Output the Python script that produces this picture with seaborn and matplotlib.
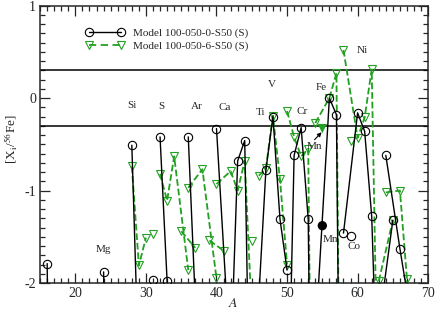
import matplotlib
matplotlib.use("Agg")
import matplotlib.pyplot as plt
from matplotlib.lines import Line2D
from matplotlib.ticker import MultipleLocator
import pandas as pd
import seaborn as sns

# Model 100-050-0-S50 (S): isotope groups, mass numbers, [X_i/56Fe]
m0_group = ["O"] * 3 + ["Mg"] * 3 + ["Si"] * 3 + ["P"] + ["S"] * 4 + ["Ar"] * 3 \
    + ["Ca"] * 6 + ["Ti"] * 5 + ["VCr"] * 5 + ["Fe"] * 4 + ["Co"] + ["Ni"] * 5 \
    + ["Cu"] * 2 + ["Zn"] * 5
m0_A = [16, 17, 18, 24, 25, 26, 28, 29, 30, 31, 32, 33, 34, 36, 36, 38, 40,
        40, 42, 43, 44, 46, 48, 46, 47, 48, 49, 50, 50, 51, 52, 53, 54,
        54, 56, 57, 58, 59, 58, 60, 61, 62, 64, 63, 65, 64, 66, 67, 68, 70]
m0_val = [-1.79, -9, -9, -1.88, -9, -9, -0.51, -3.0, -4.5, -1.97,
          -0.42, -1.98, -6, -8, -0.42, -4.0, -6,
          -0.33, -2.9, -0.68, -0.46, -9, -9,
          -2.15, -0.78, -0.20, -1.31, -1.86,
          -4.1, -0.62, -0.32, -1.31, -8,
          -2.62, 0.0, -0.18, -8, -1.49,
          -1.46, -0.16, -0.36, -1.28, -6,
          -2.45, -1.32, -0.62, -1.63, -2.1, -5, -5]

# Model 100-050-6-S50 (S)
m6_group = ["Si"] * 3 + ["P"] + ["S"] * 4 + ["Cl"] * 2 + ["Ar"] * 3 + ["K"] * 2 \
    + ["Ca"] * 6 + ["Sc"] + ["Ti"] * 5 + ["VCr"] * 5 + ["Fe"] * 4 + ["Co"] \
    + ["Ni"] * 5 + ["Cu"] * 2 + ["Zn"] * 5
m6_A = [28, 29, 30, 31, 32, 33, 34, 36, 35, 37, 36, 38, 40, 39, 41,
        40, 42, 43, 44, 46, 48, 45, 46, 47, 48, 49, 50, 50, 51, 52, 53, 54,
        54, 56, 57, 58, 59, 58, 60, 61, 62, 64, 63, 65, 64, 66, 67, 68, 70]
m6_val = [-0.74, -1.81, -1.51, -1.47, -0.82, -1.11, -0.63, -1.86,
          -1.44, -1.62, -0.97, -0.77, -1.95, -1.54, -1.65,
          -0.93, -0.79, -1.0, -0.68, -4, -8, -1.55,
          -0.84, -0.76, -0.19, -0.88, -1.80,
          -0.14, -0.42, -0.63, -0.55, -8,
          -0.27, 0.0, 0.27, -8, -0.46,
          0.52, -0.43, -0.21, 0.31, -8,
          -1.98, -1.32, -1.02, -1.0, -1.96, -5, -5]

# 55Mn (filled symbols)
mn_A = [55, 55]
mn_val = [-1.38, -0.33]
mn_model = ["m0", "m6"]

# element labels
lab_text = ["Mg", "Si", "S", "Ar", "Ca", "Ti", "V", "Cr", "Fe", "Ni", "Mn", "Mn", "Co"]
lab_A = [24.0, 28.0, 32.2, 37.2, 41.1, 46.2, 47.8, 52.1, 54.9, 60.7, 53.9, 56.1, 59.5]
lab_y = [-1.64, -0.08, -0.09, -0.09, -0.10, -0.16, 0.15, -0.15, 0.11, 0.51, -0.52, -1.53, -1.60]

green = "#22a022"

sns.set_style("ticks")
plt.rcParams["font.family"] = ["Liberation Serif", "DejaVu Serif"]
plt.rcParams["mathtext.fontset"] = "stix"
plt.rcParams["axes.unicode_minus"] = False

fig, ax = plt.subplots(figsize=(4.36, 3.11), dpi=100)
fig.subplots_adjust(left=0.092, right=0.982, top=0.982, bottom=0.09)

df0 = pd.DataFrame({"A": m0_A, "val": m0_val, "el": m0_group})
df6 = pd.DataFrame({"A": m6_A, "val": m6_val, "el": m6_group})
dmn = pd.DataFrame({"A": mn_A, "val": mn_val, "model": mn_model})

ax.axhline(0.3, color="black", lw=1.1, zorder=1)
ax.axhline(-0.3, color="black", lw=1.1, zorder=1)

sns.lineplot(data=df0, x="A", y="val", units="el", estimator=None, ax=ax,
             color="black", lw=1.0, marker="o", ms=6, markerfacecolor="none",
             markeredgecolor="black", markeredgewidth=0.8, legend=False, zorder=3)
sns.lineplot(data=df6, x="A", y="val", units="el", estimator=None, ax=ax,
             color=green, lw=1.3, linestyle="--", dashes=(4, 2.5), marker="v", ms=6,
             markerfacecolor="none", markeredgecolor=green, markeredgewidth=0.8,
             legend=False, zorder=2)
sns.scatterplot(data=dmn, x="A", y="val", hue="model", style="model",
                palette={"m0": "black", "m6": green}, markers={"m0": "o", "m6": "v"},
                s=45, edgecolor="none", legend=False, ax=ax, zorder=4)

for t, a, y in zip(lab_text, lab_A, lab_y):
    ax.text(a, y, t, ha="center", va="center", fontsize=8)
ax.annotate("", xy=(54.9, -0.37), xytext=(53.9, -0.45),
            arrowprops=dict(arrowstyle="-|>", color="black", lw=0.8,
                            mutation_scale=6, shrinkA=0, shrinkB=0))

handles = [
    Line2D([], [], color="black", lw=1.0, marker="o", ms=6, mfc="none", mew=0.8),
    Line2D([], [], color=green, lw=1.3, ls="--", dashes=(4, 2.5), marker="v", ms=6,
           mfc="none", mec=green, mew=0.8),
]
ax.legend(handles, ["Model 100-050-0-S50 (S)", "Model 100-050-6-S50 (S)"],
          loc="upper left", bbox_to_anchor=(0.118, 0.92), frameon=False, fontsize=8,
          handlelength=3.5, numpoints=2, labelspacing=0.3, handletextpad=0.7,
          borderpad=0, borderaxespad=0)

ax.set_xlim(15, 70)
ax.set_ylim(-2, 1)
ax.xaxis.set_major_locator(MultipleLocator(10))
ax.xaxis.set_minor_locator(MultipleLocator(1))
ax.yaxis.set_major_locator(MultipleLocator(1))
ax.yaxis.set_minor_locator(MultipleLocator(0.1))
ax.tick_params(which="both", direction="in", top=True, right=True, width=0.9,
               labelsize=10, pad=3)
ax.tick_params(which="major", length=7)
ax.tick_params(which="minor", length=3.5)
for s in ax.spines.values():
    s.set_linewidth(1.1)
ax.set_xlabel("$A$", fontsize=10)
ax.xaxis.set_label_coords(0.498, -0.05)
ax.set_ylabel(r"[X$_\mathrm{i}$/$^{56}$Fe]", fontsize=9.5)
ax.yaxis.set_label_coords(-0.052, 0.52)

fig.savefig("out.png", dpi=100)
